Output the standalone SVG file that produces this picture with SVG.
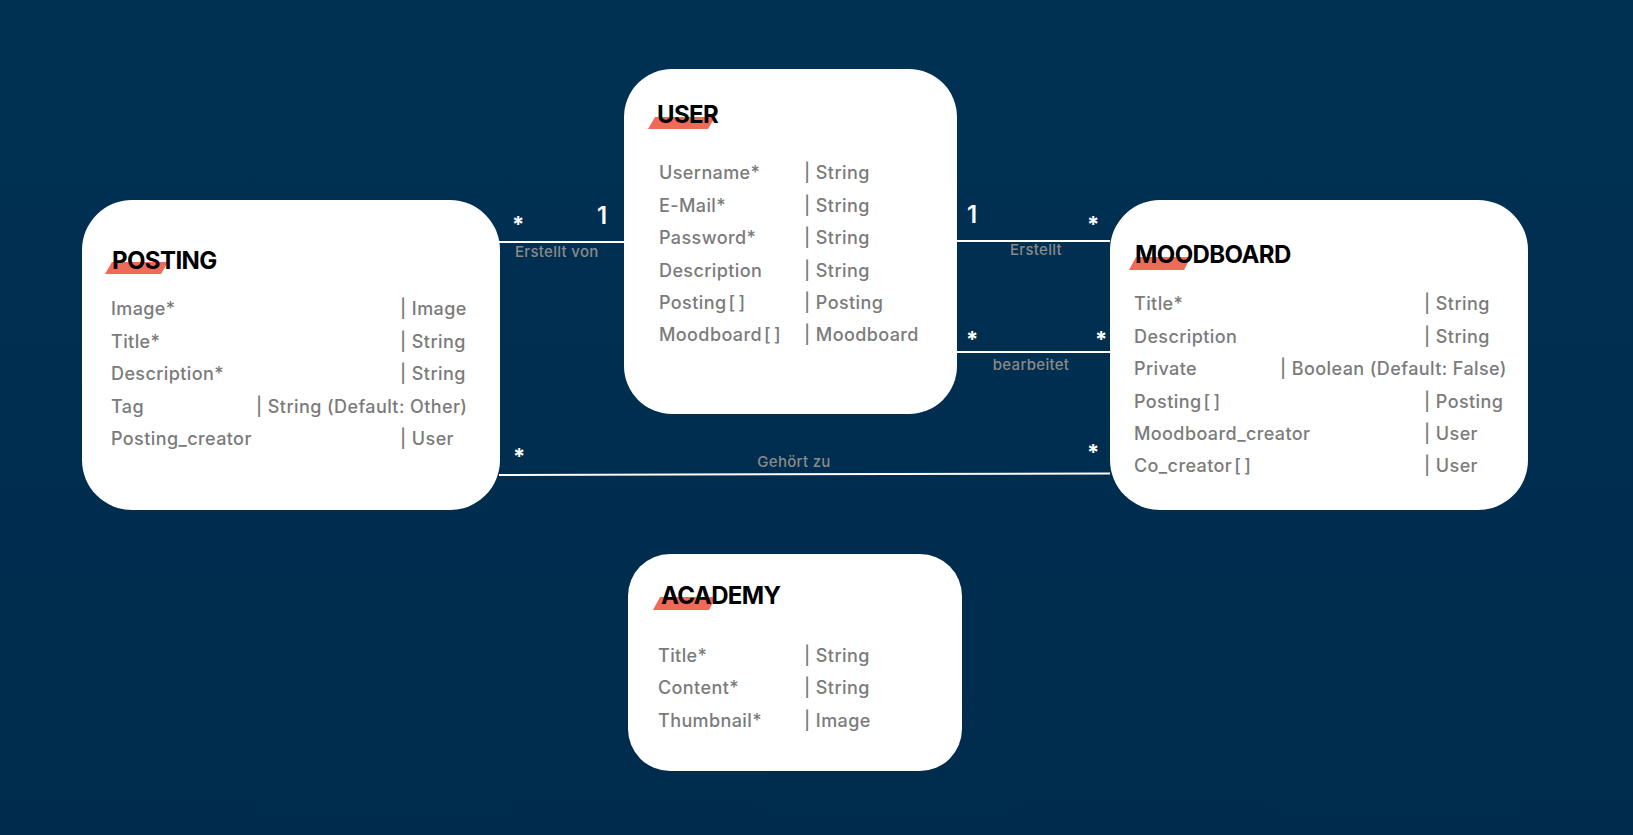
<svg xmlns="http://www.w3.org/2000/svg" width="1633" height="835" viewBox="0 0 1633 835">
<defs>
<linearGradient id="bg" x1="0" y1="0" x2="0" y2="1">
<stop offset="0" stop-color="#003153"/>
<stop offset="1" stop-color="#002b4c"/>
</linearGradient>
<style>
.box{fill:#ffffff}
.title{font-family:Inter,"Liberation Sans",sans-serif;font-weight:700;font-size:24px;fill:#000;letter-spacing:-0.6px}
.mark{fill:#ef6a58}
.attr{font-family:Inter,"Liberation Sans",sans-serif;font-size:18px;font-weight:500;fill:#7b7b7b;letter-spacing:0.4px}
.edge{stroke:#ffffff;stroke-width:2;fill:none}
.lbl{font-family:Inter,"Liberation Sans",sans-serif;font-size:15px;font-weight:500;fill:#8a8a8a;letter-spacing:0.3px}
.mult{font-family:Inter,"Liberation Sans",sans-serif;font-size:22px;font-weight:700;fill:#ffffff}
.one{font-family:Inter,"Liberation Sans",sans-serif;font-size:24px;font-weight:600;fill:#ffffff}
</style>
</defs>
<rect width="1633" height="835" fill="url(#bg)"/>

<g id="connectors">
<line class="edge" x1="499" y1="242" x2="624" y2="242"/>
<text class="mult" x="512" y="232">*</text>
<text class="one" x="597" y="224">1</text>
<text class="lbl" x="515" y="257">Erstellt von</text>

<line class="edge" x1="957" y1="241" x2="1110" y2="241"/>
<text class="one" x="967" y="223">1</text>
<text class="mult" x="1087" y="232">*</text>
<text class="lbl" x="1036" y="255" text-anchor="middle">Erstellt</text>

<line class="edge" x1="957" y1="352" x2="1110" y2="352"/>
<text class="mult" x="966" y="347">*</text>
<text class="mult" x="1095" y="347">*</text>
<text class="lbl" x="1031" y="370" text-anchor="middle">bearbeitet</text>

<line class="edge" x1="499" y1="475" x2="1110" y2="473.5"/>
<text class="mult" x="513" y="464">*</text>
<text class="mult" x="1087" y="460">*</text>
<text class="lbl" x="794" y="467" text-anchor="middle">Gehört zu</text>
</g>

<g id="user">
<rect class="box" x="624" y="69" width="333" height="345" rx="48"/>
<polygon class="mark" points="655,117 715,117 708,129 648,129"/>
<text class="title" x="657" y="123">USER</text>
<text class="attr" x="659" y="179">Username*</text><text class="attr" x="804" y="179">| String</text>
<text class="attr" x="659" y="212">E-Mail*</text><text class="attr" x="804" y="212">| String</text>
<text class="attr" x="659" y="244">Password*</text><text class="attr" x="804" y="244">| String</text>
<text class="attr" x="659" y="277">Description</text><text class="attr" x="804" y="277">| String</text>
<text class="attr" x="659" y="309">Posting<tspan dx="2">[</tspan><tspan dx="3">]</tspan></text><text class="attr" x="804" y="309">| Posting</text>
<text class="attr" x="659" y="341">Moodboard<tspan dx="2">[</tspan><tspan dx="3">]</tspan></text><text class="attr" x="804" y="341">| Moodboard</text>
</g>

<g id="posting">
<rect class="box" x="82" y="200" width="418" height="310" rx="50"/>
<polygon class="mark" points="112,262 168,262 161,274 105,274"/>
<text class="title" x="112" y="269">POSTING</text>
<text class="attr" x="111" y="315">Image*</text><text class="attr" x="400" y="315">| Image</text>
<text class="attr" x="111" y="348">Title*</text><text class="attr" x="400" y="348">| String</text>
<text class="attr" x="111" y="380">Description*</text><text class="attr" x="400" y="380">| String</text>
<text class="attr" x="111" y="413">Tag</text><text class="attr" x="256" y="413">| String (Default: Other)</text>
<text class="attr" x="111" y="445">Posting_creator</text><text class="attr" x="400" y="445">| User</text>
</g>

<g id="moodboard">
<rect class="box" x="1110" y="200" width="418" height="310" rx="50"/>
<polygon class="mark" points="1136,257 1191,257 1184,270 1129,270"/>
<text class="title" x="1135" y="263">MOODBOARD</text>
<text class="attr" x="1134" y="310">Title*</text><text class="attr" x="1424" y="310">| String</text>
<text class="attr" x="1134" y="343">Description</text><text class="attr" x="1424" y="343">| String</text>
<text class="attr" x="1134" y="375">Private</text><text class="attr" x="1280" y="375">| Boolean (Default: False)</text>
<text class="attr" x="1134" y="408">Posting<tspan dx="2">[</tspan><tspan dx="3">]</tspan></text><text class="attr" x="1424" y="408">| Posting</text>
<text class="attr" x="1134" y="440">Moodboard_creator</text><text class="attr" x="1424" y="440">| User</text>
<text class="attr" x="1134" y="472">Co_creator<tspan dx="2">[</tspan><tspan dx="3">]</tspan></text><text class="attr" x="1424" y="472">| User</text>
</g>

<g id="academy">
<rect class="box" x="628" y="554" width="334" height="217" rx="42"/>
<polygon class="mark" points="660,597 716,597 709,610 653,610"/>
<text class="title" x="661" y="604">ACADEMY</text>
<text class="attr" x="658" y="662">Title*</text><text class="attr" x="804" y="662">| String</text>
<text class="attr" x="658" y="694">Content*</text><text class="attr" x="804" y="694">| String</text>
<text class="attr" x="658" y="727">Thumbnail*</text><text class="attr" x="804" y="727">| Image</text>
</g>
</svg>
